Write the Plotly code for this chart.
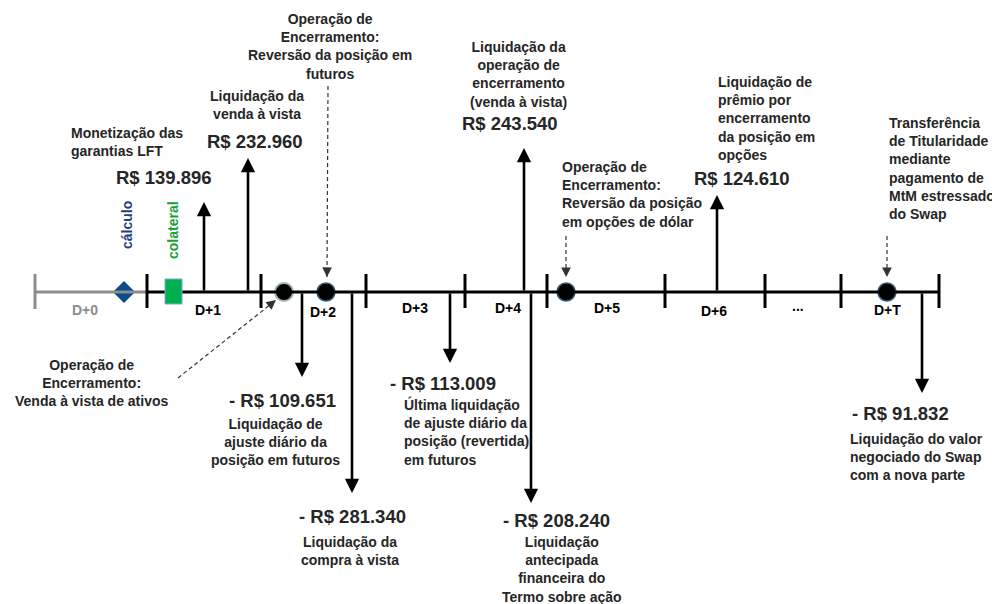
import plotly.graph_objects as go

TEXT = "#262626"
GRAY = "#8c8c8c"
NAVY = "#0b4a8b"
GREEN = "#00b050"
FONT = "Liberation Sans, Arial, sans-serif"

# timeline (drawing coordinates)
AXIS_Y = 292
TICK_X = [147, 261, 366, 465, 547, 665, 765, 841, 939]
START_X = 35
DAY_LABELS = ["D+0", "D+1", "D+2", "D+3", "D+4", "D+5", "D+6", "...", "D+T"]
DAY_LABEL_X = [85, 208, 323, 415, 508, 607, 714, 798, 887]
DAY_LABEL_Y = [310, 310, 312, 308, 308, 308, 311, 306, 310]

# cash flows
FLOW_VALUES = [139896, 232960, -109651, -281340, -113009, 243540, -208240, 124610, -91832]
FLOW_X = [204, 248, 302, 352, 450, 524, 531, 717, 922]
FLOW_TIP_Y = [202, 158, 377, 493, 363, 148, 503, 195, 393]
AMOUNT_X = [164, 255, 282, 352, 443, 510, 556, 742, 900]
AMOUNT_Y = [177, 141, 400, 516, 383, 123, 520, 178, 413]
FLOW_TEXT = [
    "Monetização das<br>garantias LFT",
    "Liquidação da<br>venda à vista",
    "Liquidação de<br>ajuste diário da<br>posição em futuros",
    "Liquidação da<br>compra à vista",
    "Última liquidação<br>de ajuste diário da<br>posição (revertida)<br>em futuros",
    "Liquidação da<br>operação de<br>encerramento<br>(venda à vista)",
    "Liquidação<br>antecipada<br>financeira do<br>Termo sobre ação",
    "Liquidação de<br>prêmio por<br>encerramento<br>da posição em<br>opções",
    "Liquidação do valor<br>negociado do Swap<br>com a nova parte",
]
FLOW_TEXT_X = [69, 257, 275, 350, 402, 518, 562, 716, 848]
FLOW_TEXT_Y = [141.5, 104.5, 441.5, 550.5, 431.5, 74, 569, 118.5, 457]
FLOW_TEXT_ANCHOR = ["left", "center", "center", "center", "left", "center", "center", "left", "left"]

# closing operations (events)
EVENT_X = [284, 326, 566, 887]
EVENT_TEXT = [
    "Operação de<br>Encerramento:<br>Venda à vista de ativos",
    "Operação de<br>Encerramento:<br>Reversão da posição em<br>futuros",
    "Operação de<br>Encerramento:<br>Reversão da posição<br>em opções de dólar",
    "Transferência<br>de Titularidade<br>mediante<br>pagamento de<br>MtM estressado<br>do Swap",
]
EVENT_TEXT_X = [92, 330, 560, 887]
EVENT_TEXT_Y = [383, 46, 194, 168]
EVENT_TEXT_ANCHOR = ["center", "center", "left", "left"]
EVENT_LINE_FROM = [(178, 378), (328, 86), (566, 236), (887, 236)]
EVENT_LINE_TO = [(276, 300), (327, 277), (566, 277), (887, 277)]

# page body has an 8px margin: shift ranges so drawing coords == page pixels
PAD = 8


def fmt_brl(v):
    s = "R$ " + f"{abs(v):,}".replace(",", ".")
    return ("- " + s) if v < 0 else s


fig = go.Figure()
shapes = []
ann = []

# gray start segment + black timeline
shapes.append(dict(type="line", x0=START_X, x1=TICK_X[0], y0=AXIS_Y, y1=AXIS_Y, line=dict(color=GRAY, width=3)))
shapes.append(dict(type="line", x0=START_X, x1=START_X, y0=274, y1=309, line=dict(color=GRAY, width=3)))
shapes.append(dict(type="line", x0=TICK_X[0], x1=TICK_X[-1], y0=AXIS_Y, y1=AXIS_Y, line=dict(color="black", width=3)))
for tx in TICK_X:
    shapes.append(dict(type="line", x0=tx, x1=tx, y0=274, y1=308, line=dict(color="black", width=3)))

# collateral box
shapes.append(dict(type="rect", x0=165, x1=182, y0=279, y1=304, fillcolor=GREEN, line=dict(color="#7ea6cf", width=1)))

# dashed pointers
for (x0, y0), (x1, y1) in zip(EVENT_LINE_FROM, EVENT_LINE_TO):
    shapes.append(dict(type="line", x0=x0, y0=y0, x1=x1, y1=y1, line=dict(color="#333333", width=1.2, dash="4px,3px")))
    dx, dy = x1 - x0, y1 - y0
    n = (dx * dx + dy * dy) ** 0.5
    ann.append(dict(x=x1, y=y1, ax=x1 - dx / n * 7, ay=y1 - dy / n * 7, xref="x", yref="y", axref="x", ayref="y",
                    showarrow=True, arrowhead=2, arrowsize=1.6, arrowwidth=1.2, arrowcolor="#333333", text=""))

# cash flow arrows
for fx, ty in zip(FLOW_X, FLOW_TIP_Y):
    ann.append(dict(x=fx, y=ty, ax=fx, ay=AXIS_Y, xref="x", yref="y", axref="x", ayref="y",
                    showarrow=True, arrowhead=2, arrowsize=1.1, arrowwidth=2.6, arrowcolor="black", text="", standoff=0))

for v, x, y in zip(FLOW_VALUES, AMOUNT_X, AMOUNT_Y):
    ann.append(dict(x=x, y=y, text="<b>" + fmt_brl(v) + "</b>", showarrow=False, xanchor="center", yanchor="middle",
                    font=dict(size=18.5, color=TEXT, family=FONT)))

for t, x, y, a in zip(FLOW_TEXT, FLOW_TEXT_X, FLOW_TEXT_Y, FLOW_TEXT_ANCHOR):
    ann.append(dict(x=x, y=y, text="<b>" + t + "</b>", showarrow=False, xanchor=a, yanchor="middle", align=a,
                    font=dict(size=14, color=TEXT, family=FONT)))

for t, x, y, a in zip(EVENT_TEXT, EVENT_TEXT_X, EVENT_TEXT_Y, EVENT_TEXT_ANCHOR):
    ann.append(dict(x=x, y=y, text="<b>" + t + "</b>", showarrow=False, xanchor=a, yanchor="middle", align=a,
                    font=dict(size=14, color=TEXT, family=FONT)))

for lbl, x, y in zip(DAY_LABELS, DAY_LABEL_X, DAY_LABEL_Y):
    ann.append(dict(x=x, y=y, text="<b>" + lbl + "</b>", showarrow=False, xanchor="center", yanchor="middle",
                    font=dict(size=14, color=GRAY if lbl == "D+0" else "black", family=FONT)))

# rotated labels
ann.append(dict(x=127, y=225, text="<b>cálculo</b>", textangle=-90, showarrow=False,
                font=dict(size=14, color="#1f3f7f", family=FONT)))
ann.append(dict(x=173, y=230, text="<b>colateral</b>", textangle=-90, showarrow=False,
                font=dict(size=14, color="#17a035", family=FONT)))

# diamond (calc date)
fig.add_trace(go.Scatter(x=[124], y=[AXIS_Y], mode="markers",
                         marker=dict(symbol="diamond", size=17, color=NAVY, line=dict(width=0)), hoverinfo="skip"))
# event circles
fig.add_trace(go.Scatter(x=EVENT_X[:1], y=[AXIS_Y], mode="markers",
                         marker=dict(size=18, color="black", line=dict(color="#9fb4b0", width=2)), hoverinfo="skip"))
fig.add_trace(go.Scatter(x=EVENT_X[1:], y=[AXIS_Y] * 3, mode="markers",
                         marker=dict(size=18, color="black", line=dict(color="#35597a", width=1.5)), hoverinfo="skip"))

fig.update_layout(
    width=1000 - PAD, height=604 - PAD,
    margin=dict(l=0, r=0, t=0, b=0),
    paper_bgcolor="white", plot_bgcolor="white",
    showlegend=False,
    shapes=shapes, annotations=ann,
    xaxis=dict(range=[PAD, 1000], visible=False, fixedrange=True),
    yaxis=dict(range=[604, PAD], visible=False, fixedrange=True),
)
fig.write_html("out.html", config={"displayModeBar": False})
